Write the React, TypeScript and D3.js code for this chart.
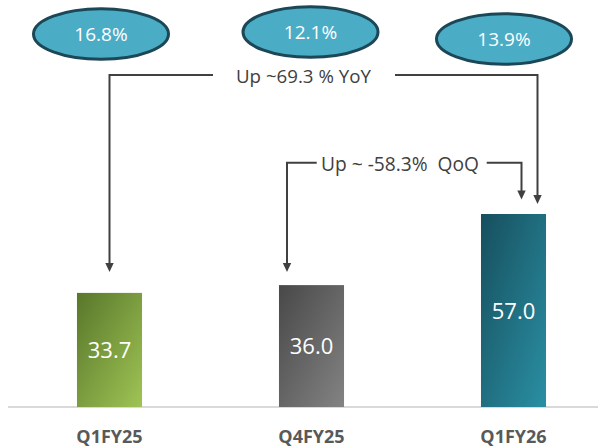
import React from "react";
import * as d3 from "d3";

// ---- data ----
const categories = ["Q1FY25", "Q4FY25", "Q1FY26"];
const revenue = [33.7, 36.0, 57.0];
const margins = [16.8, 12.1, 13.9];
const yoyLabel = "Up ~69.3 % YoY";
const qoqLabel = "Up ~ -58.3%  QoQ";

// ---- layout / style ----
const W = 598;
const H = 448;
const baseline = 407;
const barGradients = [
  ["#58772b", "#9fc454"],
  ["#484848", "#838383"],
  ["#164f5e", "#2a8fa3"],
];
const ellipseDx = [-8.5, -1, -9.5];
const ellipseCy = [34, 32, 39];
const lineColor = "#404040";

export default function App() {
  const x = d3
    .scaleBand<string>()
    .domain(categories)
    .range([8.5, 614.5])
    .paddingInner(0.678)
    .paddingOuter(0.339);
  const y = d3.scaleLinear().domain([0, 120]).range([baseline, 0.7]);
  const bw = x.bandwidth();
  const cx = (i: number) => (x(categories[i]) as number) + bw / 2;

  const arrowHead = (tx: number, ty: number) =>
    `M${tx},${ty} L${tx - 4.2},${ty - 9} L${tx + 4.2},${ty - 9} Z`;

  // connector geometry (relative to bars)
  const yoyY = 75;
  const qoqY = 162.7;
  const yoyLeftX = cx(0);
  const yoyRightX = cx(2) + 24;
  const qoqLeftX = cx(1) - 24.5;
  const qoqRightX = cx(2) + 8;
  const yoyTip0 = y(revenue[0]) - 21;
  const yoyTip2 = y(revenue[2]) - 10;
  const qoqTip1 = y(revenue[1]) - 13;
  const qoqTip2 = y(revenue[2]) - 14.5;

  return (
    <svg
      width={W}
      height={H}
      style={{ position: "absolute", left: 0, top: 0, background: "#fff" }}
      fontFamily="'Open Sans', sans-serif"
    >
      <defs>
        {barGradients.map((g, i) => (
          <linearGradient key={i} id={`bg${i}`} x1="0" y1="0" x2="1" y2="1">
            <stop offset="0" stopColor={g[0]} />
            <stop offset="1" stopColor={g[1]} />
          </linearGradient>
        ))}
      </defs>

      {/* axis line */}
      <line x1={8} x2={W} y1={baseline} y2={baseline} stroke="#d9d9d9" strokeWidth={2} />

      {/* bars */}
      {revenue.map((v, i) => (
        <g key={categories[i]}>
          <rect
            x={x(categories[i])}
            y={y(v)}
            width={bw}
            height={baseline - y(v)}
            fill={`url(#bg${i})`}
          />
          <text
            x={cx(i)}
            y={(y(v) + baseline) / 2 + 8}
            textAnchor="middle"
            fill="#fff"
            fontSize={22}
          >
            {v.toFixed(1)}
          </text>
          <text
            x={cx(i)}
            y={442.5}
            textAnchor="middle"
            fill="#595959"
            fontSize={18}
            fontWeight="bold"
          >
            {categories[i]}
          </text>
        </g>
      ))}

      {/* margin ellipses */}
      {margins.map((m, i) => (
        <g key={`m${i}`}>
          <ellipse
            cx={cx(i) + ellipseDx[i]}
            cy={ellipseCy[i]}
            rx={67.5}
            ry={25.3}
            fill="#4bacc6"
            stroke="#1b4757"
            strokeWidth={3}
          />
          <text
            x={cx(i) + ellipseDx[i]}
            y={ellipseCy[i] + 7}
            textAnchor="middle"
            fill="#fff"
            fontSize={19}
          >
            {m.toFixed(1)}%
          </text>
        </g>
      ))}

      {/* YoY connector */}
      <g stroke={lineColor} strokeWidth={2} fill="none">
        <path d={`M213,${yoyY} H${yoyLeftX} V${yoyTip0 - 8}`} />
        <path d={`M395,${yoyY} H${yoyRightX} V${yoyTip2 - 8}`} />
        <path d={`M316.7,${qoqY} H${qoqLeftX} V${qoqTip1 - 8}`} />
        <path d={`M486.7,${qoqY} H${qoqRightX} V${qoqTip2 - 8}`} />
      </g>
      <g fill={lineColor}>
        <path d={arrowHead(yoyLeftX, yoyTip0)} />
        <path d={arrowHead(yoyRightX, yoyTip2)} />
        <path d={arrowHead(qoqLeftX, qoqTip1)} />
        <path d={arrowHead(qoqRightX, qoqTip2)} />
      </g>
      <text x={303.4} y={82.7} textAnchor="middle" fill={lineColor} fontSize={18.7}>
        {yoyLabel}
      </text>
      <text
        x={400}
        y={170.5}
        textAnchor="middle"
        fill={lineColor}
        fontSize={19.2}
        style={{ whiteSpace: "pre" }}
      >
        {qoqLabel}
      </text>
    </svg>
  );
}
